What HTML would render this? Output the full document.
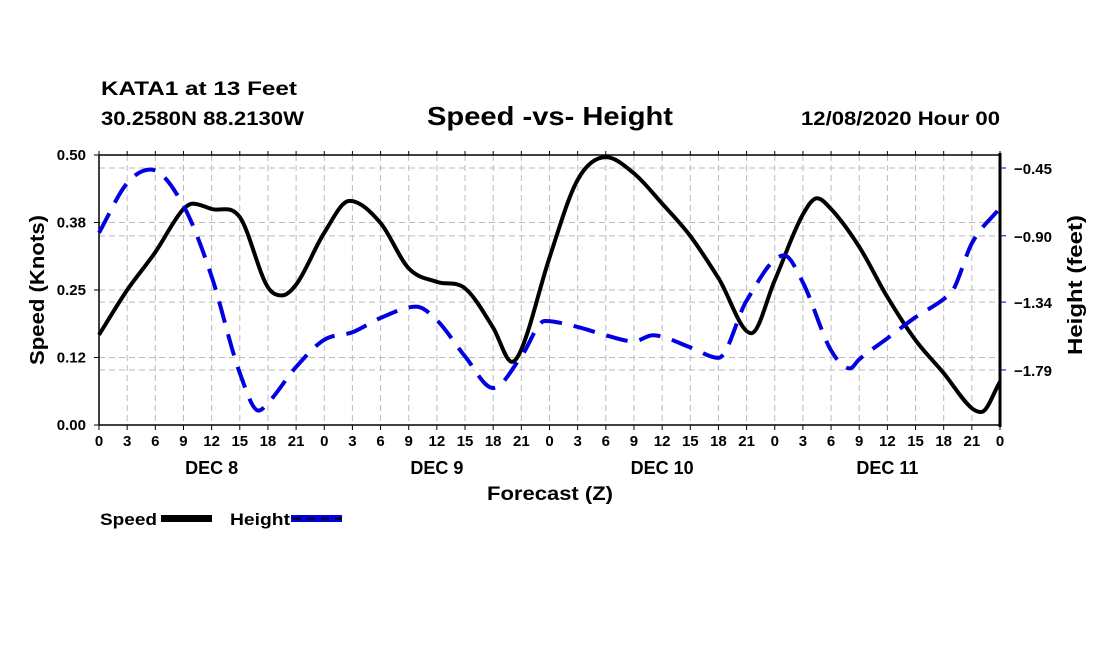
<!DOCTYPE html>
<html><head><meta charset="utf-8"><style>
html,body{margin:0;padding:0;background:#fff;}
svg{display:block;font-family:"Liberation Sans",Arial,sans-serif;font-weight:bold;}
</style></head><body>
<svg id="chart" width="1100" height="650" viewBox="0 0 1100 650">
<text x="101" y="95" font-size="19" textLength="196" lengthAdjust="spacingAndGlyphs">KATA1 at 13 Feet</text>
<text x="101" y="125" font-size="19" textLength="203" lengthAdjust="spacingAndGlyphs">30.2580N 88.2130W</text>
<text x="427" y="125" font-size="26" textLength="246" lengthAdjust="spacingAndGlyphs">Speed -vs- Height</text>
<text x="801" y="125" font-size="19" textLength="199" lengthAdjust="spacingAndGlyphs">12/08/2020 Hour 00</text>
<g id="grid"></g>
<g id="axes"></g>
<g id="series"></g>
<text transform="translate(44,290) rotate(-90)" font-size="20" text-anchor="middle" textLength="150" lengthAdjust="spacingAndGlyphs">Speed (Knots)</text>
<text transform="translate(1082,285) rotate(-90)" font-size="20" text-anchor="middle" textLength="140" lengthAdjust="spacingAndGlyphs">Height (feet)</text>
<text x="487" y="500" font-size="19" textLength="126" lengthAdjust="spacingAndGlyphs">Forecast (Z)</text>
<g>
<text x="100" y="525" font-size="17" textLength="57" lengthAdjust="spacingAndGlyphs">Speed</text>
<rect x="161" y="515" width="51" height="7" fill="#000"/>
<text x="230" y="525" font-size="17" textLength="60" lengthAdjust="spacingAndGlyphs">Height</text>
<rect x="291" y="515" width="51" height="7" fill="#0000e0"/>
<line x1="293" y1="518.5" x2="342" y2="518.5" stroke="#000" stroke-width="2" stroke-dasharray="8,6"/>
</g>
</svg>
<script>
const speedHours=[0,3,6,9,10,12,15,18,19.5,21,24,26.7,30,33,36,39,42,44,45,48,51,54,57,60,63,66,69.5,72,75,76.5,78,81,84,87,90,93,94,96];
const speedValues=[0.167,0.25,0.32,0.40,0.41,0.40,0.385,0.255,0.24,0.26,0.356,0.415,0.374,0.29,0.265,0.253,0.18,0.117,0.14,0.31,0.454,0.496,0.466,0.41,0.35,0.272,0.17,0.268,0.39,0.42,0.40,0.33,0.237,0.157,0.096,0.031,0.024,0.08];
const heightHours=[0,3,5.5,9,12,15,17,18,21,24,27,30,33.8,36,39,42,45,47.5,51,54,57,59,63,66,69,73,75,78,80,81,84,87,90,91,93,96];
const heightValues=[-0.88,-0.55,-0.46,-0.70,-1.17,-1.81,-2.06,-2.01,-1.77,-1.59,-1.54,-1.445,-1.37,-1.46,-1.70,-1.91,-1.70,-1.465,-1.505,-1.56,-1.60,-1.56,-1.64,-1.71,-1.33,-1.03,-1.21,-1.66,-1.78,-1.72,-1.58,-1.44,-1.32,-1.26,-0.95,-0.715];
const xTickLabels=["0","3","6","9","12","15","18","21"];
const dayLabels=["DEC 8","DEC 9","DEC 10","DEC 11"];
const speedTicks=[0,0.125,0.25,0.375,0.5];
const speedTickLabels=["0.00","0.12","0.25","0.38","0.50"];
const heightTicks=[-0.45,-0.90,-1.34,-1.79];
const heightTickLabels=["\u22120.45","\u22120.90","\u22121.34","\u22121.79"];

const L=99,R=1000,T=155,B=425;
const xS=h=>L+(R-L)*h/96;
const yS=v=>B-(B-T)*v/0.5;
const yH=v=>168+(-0.45-v)*150.7;
const NS="http://www.w3.org/2000/svg";
function mk(tag,attrs,parent){const e=document.createElementNS(NS,tag);for(const k in attrs)e.setAttribute(k,attrs[k]);parent.appendChild(e);return e;}
const grid=document.getElementById('grid'),axes=document.getElementById('axes'),series=document.getElementById('series');

for(let h=3;h<96;h+=3){const g=mk('line',{x1:xS(h),x2:xS(h),y1:T,y2:B,stroke:'#bbb','stroke-dasharray':'6,4'},grid);

}
speedTicks.forEach(v=>{if(v>0&&v<0.5){const g=mk('line',{x1:L,x2:R,y1:yS(v),y2:yS(v),stroke:'#bbb','stroke-dasharray':'6,4'},grid);

}});
heightTicks.forEach(v=>{const g=mk('line',{x1:L,x2:R,y1:yH(v),y2:yH(v),stroke:'#bbb','stroke-dasharray':'6,4'},grid);

});

const frame=mk('path',{d:`M${L},${T}H${R}M${L},${B}H${R}M${L},${T}V${B}`,stroke:'#000','stroke-width':1.5,fill:'none'},axes);


const rsp=mk('line',{x1:R,x2:R,y1:T-2,y2:B+2,stroke:'#000','stroke-width':3},axes);



for(let i=0;i<=32;i++){const h=i*3,x=xS(h);
mk('line',{x1:x,x2:x,y1:B,y2:B+5,stroke:'#000'},axes);
mk('line',{x1:x,x2:x,y1:T-4,y2:T,stroke:'#000'},axes);
const t=mk('text',{x:x,y:B+21,'font-size':15,'text-anchor':'middle'},axes);t.textContent=xTickLabels[i%8];

}
dayLabels.forEach((d,i)=>{const t=mk('text',{x:xS(12+24*i),y:B+49,'font-size':18,'text-anchor':'middle'},axes);t.textContent=d;

});
speedTicks.forEach((v,i)=>{mk('line',{x1:L-5,x2:L,y1:yS(v),y2:yS(v),stroke:'#000'},axes);
const t=mk('text',{x:L-13,y:yS(v)+5,'font-size':15,'text-anchor':'end'},axes);t.textContent=speedTickLabels[i];

});
heightTicks.forEach((v,i)=>{mk('line',{x1:R,x2:R+6,y1:yH(v),y2:yH(v),stroke:'#00a'},axes);
const t=mk('text',{x:R+14,y:yH(v)+6,'font-size':15},axes);t.textContent=heightTickLabels[i];

});

function curve(hs,vs,ys){const n=hs.length,xs=hs.map(xS),yy=vs.map(ys),d=[],m=[];
for(let i=0;i<n-1;i++)d.push((yy[i+1]-yy[i])/(xs[i+1]-xs[i]));
for(let i=0;i<n;i++){if(i==0)m.push(d[0]);else if(i==n-1)m.push(d[n-2]);else m.push(d[i-1]*d[i]<=0?0:(d[i-1]+d[i])/2);}
let p=`M${xs[0]},${yy[0]}`;
for(let i=0;i<n-1;i++){const dx=(xs[i+1]-xs[i])/3;p+=`C${xs[i]+dx},${yy[i]+m[i]*dx} ${xs[i+1]-dx},${yy[i+1]-m[i+1]*dx} ${xs[i+1]},${yy[i+1]}`;}
return p;}
const sp=mk('path',{d:curve(speedHours,speedValues,yS),stroke:'#000','stroke-width':4,fill:'none'},series);


const hp=mk('path',{d:curve(heightHours,heightValues,yH),stroke:'#0000e0','stroke-width':4,fill:'none','stroke-dasharray':'22,12'},series);


</script>
</body></html>
